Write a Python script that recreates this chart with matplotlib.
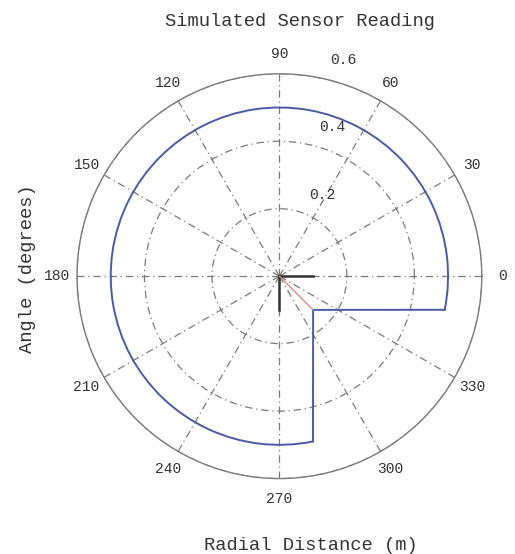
import numpy as np
import matplotlib
matplotlib.use("Agg")
import matplotlib.pyplot as plt

# sensor scan: free range on the open arc, and the corner of the box obstacle
arc_deg = [-11.5, 281.5]
arc_range = [0.5, 0.5]
box_deg = [281.5, 315.0, 348.5]
box_range = [0.5, 0.1414, 0.5]

# sensor frame axes and ray to the box corner
axis_deg = [0, 270]
axis_len = [0.1, 0.1]
ray_deg = 315.0
ray_len = 0.1414

theta_ticks = [0, 30, 60, 90, 120, 150, 180, 210, 240, 270, 300, 330]
r_ticks = [0.2, 0.4, 0.6]

font = "Liberation Mono"
grey = "#7a7a7a"
blue = "#4a5ba6"

fig = plt.figure(figsize=(5.15, 5.54), dpi=100)
ax = fig.add_axes([0.1495, 0.128, 0.786, 0.747], projection="polar")

ax.set_ylim(0, 0.6)
ax.set_thetagrids(theta_ticks, labels=[""] * len(theta_ticks))
ax.set_rgrids(r_ticks, labels=[""] * len(r_ticks))
ax.grid(True, color=grey, linestyle=(0, (6, 3, 1, 3)), linewidth=0.9)
ax.spines["polar"].set_color(grey)
ax.spines["polar"].set_linewidth(1.0)

# angle labels outside the outer ring
for t in theta_ticks:
    ax.text(np.deg2rad(t), 0.66, str(t), ha="center", va="center",
            family=font, fontsize=10.5, color="#333333", clip_on=False)

# range labels
for r in r_ticks:
    x = 0.055 + 0.16 * r
    y = r + 0.02
    ax.text(np.arctan2(y, x), np.hypot(x, y), "%.1f" % r, ha="left", va="bottom",
            family=font, fontsize=10.5, color="#333333", clip_on=False)

arc, = ax.plot(np.deg2rad(arc_deg), arc_range, color=blue, linewidth=1.4)
arc.get_path()._interpolation_steps = 180
ax.plot(np.deg2rad(box_deg), box_range, color=blue, linewidth=1.4)

for t, l in zip(axis_deg, axis_len):
    ax.plot([0, np.deg2rad(t)], [0, l], color="#333333", linewidth=1.8)
ax.plot([0, np.deg2rad(ray_deg)], [0, ray_len], color="#e08080", linewidth=0.9)

fig.text(0.583, 0.962, "Simulated Sensor Reading", ha="center", va="center",
         family=font, fontsize=13.5, color="#333333")
fig.text(0.604, 0.016, "Radial Distance (m)", ha="center", va="center",
         family=font, fontsize=13.5, color="#333333")
fig.text(0.054, 0.516, "Angle (degrees)", ha="center", va="center", rotation=90,
         family=font, fontsize=13.5, color="#333333")

fig.savefig("out.png", dpi=100, facecolor="white")
